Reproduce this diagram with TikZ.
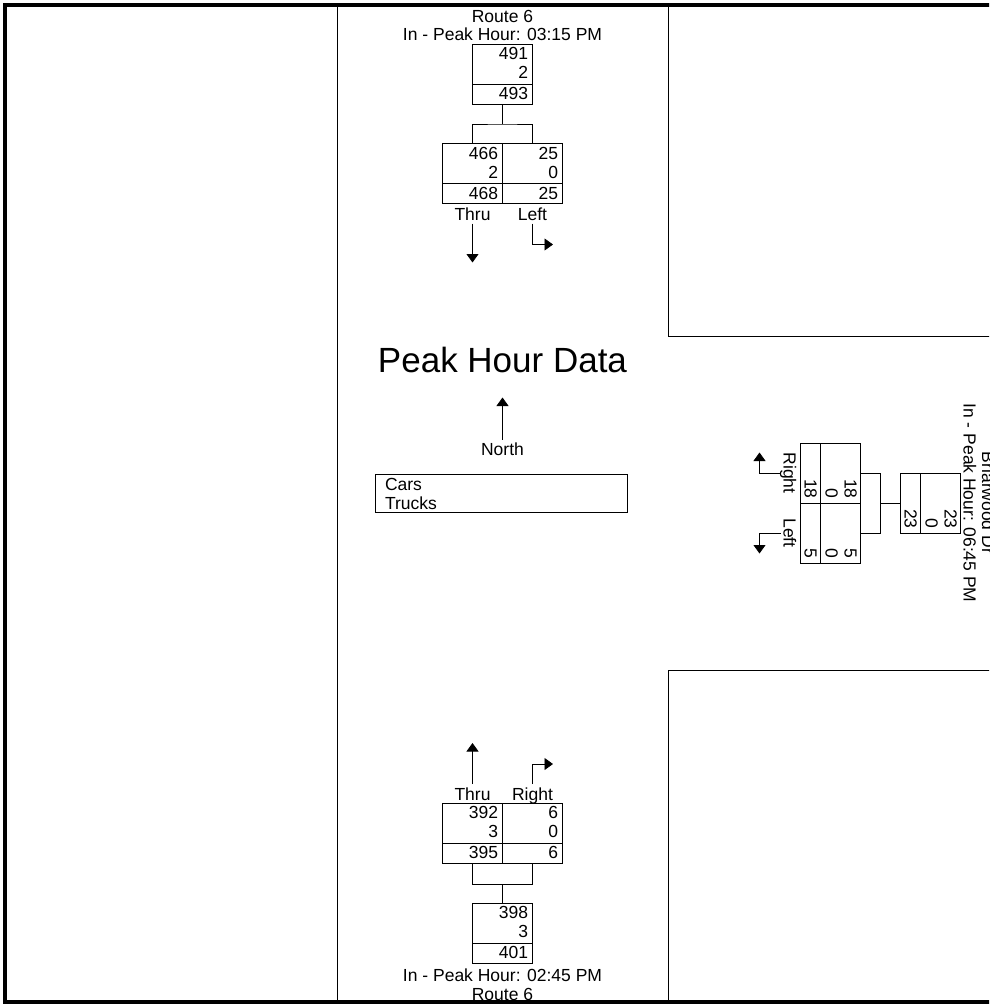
\documentclass[tikz,border=0pt]{standalone}
\usepackage{fontspec}
\setmainfont{Liberation Sans}
\usetikzlibrary{positioning,arrows.meta}

\begin{document}
\begin{tikzpicture}[
    x=1pt,
    y=-1pt,
    font=\fontsize{17.5}{19}\selectfont,
    every node/.style={inner sep=0pt, outer sep=0pt},
    cell/.style={draw, line width=.8pt, text width=51pt, inner xsep=4.5pt, align=right},
    upper/.style={cell, text height=15.5pt, text depth=24.5pt},
    lower/.style={cell, text height=15.5pt, text depth=4.5pt},
    lbl/.style={text height=13pt, text depth=0pt, outer sep=3pt, anchor=base},
    head/.style={anchor=base},
    wire/.style={line width=.8pt},
    arr/.style={line width=.8pt, -{Triangle[width=12pt,length=8.5pt]}}
  ]
  \useasboundingbox (0,0) rectangle (989,1004);
  \clip (0,0) rectangle (989,1004);

  \begin{scope}[shift={(502.5,44)}]
    \node[head] (route1) at (0,-22) {Route 6};
    \node[head] (peak1) at (0,-3.5) {In - Peak Hour: 03:15 PM};
    \node[upper, anchor=north] (in1a) at (0,0) {491\\2};
    \node[lower, below=0pt of in1a] (in1b) {493};
    \node[upper, anchor=north east] (thru1a) at (0,99.5) {466\\2};
    \node[upper, right=0pt of thru1a] (left1a) {25\\0};
    \node[lower, below=0pt of thru1a] (thru1b) {468};
    \node[lower, below=0pt of left1a] (left1b) {25};
    \node[lbl] (thrulbl1) at (-30,176.5) {Thru};
    \node[lbl] (leftlbl1) at (30,176.5) {Left};
    \draw[wire] (in1b.south) -- ++(0,20) coordinate (split1);
    \draw[wire] (thru1a.north) |- (split1) -| (left1a.north);
    \draw[arr] (thrulbl1.south) -- ++(0,39);
    \draw[arr] (leftlbl1.south) -- ++(0,21) -- ++(20.5,0);
  \end{scope}

  \begin{scope}[shift={(960,503)}, rotate=-90, transform shape]
    \node[head] (route2) at (0,-22) {Briarwood Dr};
    \node[head] (peak2) at (0,-3.5) {In - Peak Hour: 06:45 PM};
    \node[upper, anchor=north] (in2a) at (0,0) {23\\0};
    \node[lower, below=0pt of in2a] (in2b) {23};
    \node[upper, anchor=north east] (right2a) at (0,100) {18\\0};
    \node[upper, right=0pt of right2a] (left2a) {5\\0};
    \node[lower, below=0pt of right2a] (right2b) {18};
    \node[lower, below=0pt of left2a] (left2b) {5};
    \node[lbl] (rightlbl2) at (-30,176.5) {Right};
    \node[lbl] (leftlbl2) at (30,176.5) {Left};
    \draw[wire] (in2b.south) -- ++(0,20) coordinate (split2);
    \draw[wire] (right2a.north) |- (split2) -| (left2a.north);
    \draw[arr] (rightlbl2.south) -- ++(0,21) -- ++(-20.5,0);
    \draw[arr] (leftlbl2.south) -- ++(0,21) -- ++(20.5,0);
  \end{scope}

  \begin{scope}[shift={(502.5,903)}]
    \node[upper, anchor=north] (in3a) at (0,0) {398\\3};
    \node[lower, below=0pt of in3a] (in3b) {401};
    \node[head] (peak3) at (0,78) {In - Peak Hour: 02:45 PM};
    \node[head] (route3) at (0,97) {Route 6};
    \node[lower, anchor=south east] (thru3b) at (0,-40) {395};
    \node[lower, right=0pt of thru3b] (right3b) {6};
    \node[upper, above=0pt of thru3b] (thru3a) {392\\3};
    \node[upper, above=0pt of right3b] (right3a) {6\\0};
    \node[lbl] (thrulbl3) at (-30,-103) {Thru};
    \node[lbl] (rightlbl3) at (30,-103) {Right};
    \draw[wire] (in3a.north) -- ++(0,-19) coordinate (split3);
    \draw[wire] (thru3b.south) |- (split3) -| (right3b.south);
    \draw[arr] (thrulbl3.north) -- ++(0,-41);
    \draw[arr] (rightlbl3.north) -- ++(0,-20) -- ++(20.5,0);
  \end{scope}

  \node[head, font=\fontsize{35}{40}\selectfont] (title) at (502.5,372) {Peak Hour Data};
  \node[lbl] (northlbl) at (502.5,455.5) {North};
  \draw[arr] (northlbl.north) -- ++(0,-42);
  \node[draw, line width=.8pt, text width=232pt, inner xsep=10pt, text height=16.5pt, text depth=21.5pt,
    align=left, font=\fontsize{17.5}{19}\selectfont] (legend) at (501,493) {Cars\\Trucks};

  \draw[wire] (337,4.7) -- (337,1001.5);
  \draw[wire] (668.3,4.7) |- (1010,336.7);
  \draw[wire] (1010,670.7) -| (668.6,1001.5);
  \draw[line width=4pt] (5.3,4.7) rectangle (1010,1001.5);
\end{tikzpicture}
\end{document}
